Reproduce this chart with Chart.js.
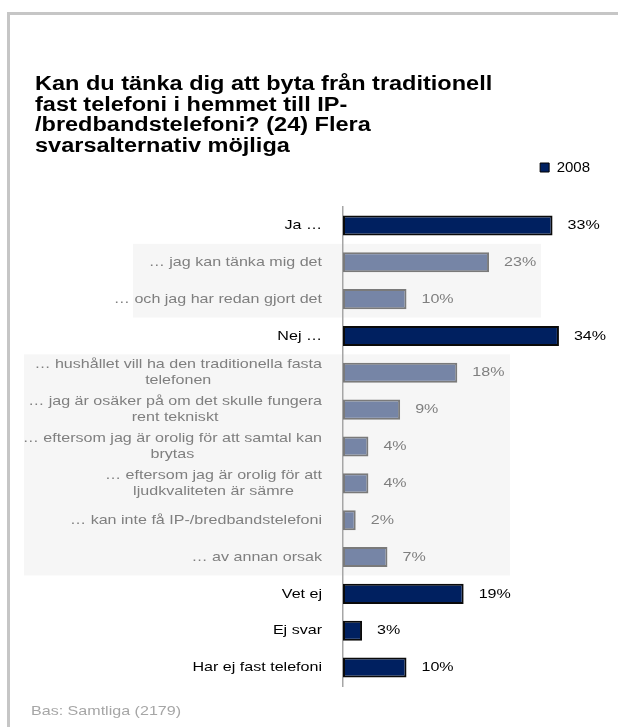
<!DOCTYPE html>
<html>
<head>
<meta charset="utf-8">
<script src="https://cdn.jsdelivr.net/npm/chart.js@4.4.0/dist/chart.umd.min.js"></script>
<style>
	html, body { margin: 0; padding: 0; background: #fff; overflow: hidden; }
	#wrap { position: relative; width: 618px; height: 727px; }
	#frame { position: absolute; left: 7px; top: 12px; width: 700px; height: 800px; border: 3px solid #c6c6c6; box-sizing: border-box; }
	canvas { position: absolute; left: 0; top: 0; }
</style>
</head>
<body>
<div id="wrap">
	<div id="frame"></div>
	<canvas id="barChart" width="618" height="727"></canvas>
</div>
<script>
const categories = [
	'Ja …',
	'… jag kan tänka mig det',
	'… och jag har redan gjort det',
	'Nej …',
	[ '… hushållet vill ha den traditionella fasta', 'telefonen' ],
	[ '… jag är osäker på om det skulle fungera', 'rent tekniskt' ],
	[ '… eftersom jag är orolig för att samtal kan', 'brytas' ],
	[ '… eftersom jag är orolig för att', 'ljudkvaliteten är sämre' ],
	'… kan inte få IP-/bredbandstelefoni',
	'… av annan orsak',
	'Vet ej',
	'Ej svar',
	'Har ej fast telefoni'
];
const values2008 = [ 33, 23, 10, 34, 18, 9, 4, 4, 2, 7, 19, 3, 10 ];
// 0 = huvudsvar, 1 = delsvar under Ja/Nej
const answerLevel = [ 0, 1, 1, 0, 1, 1, 1, 1, 1, 1, 0, 0, 0 ];
const seriesName = '2008';

const titleLines = [
	'Kan du tänka dig att byta från traditionell',
	'fast telefoni i hemmet till IP-',
	'/bredbandstelefoni? (24) Flera',
	'svarsalternativ möjliga'
];
const footnote = 'Bas: Samtliga (2179)';

const FONT = '"Liberation Sans", Arial, sans-serif';
const navy = '#002060';
const subBlue = '#7685a6';
const mainText = '#000000';
const subText = '#7f7f7f';

// the slide text is set a little wide
const STRETCH = 1.2;

function wideText(ctx, text, x, y) {
	ctx.save();
	ctx.translate(x, y);
	ctx.scale(STRETCH, 1);
	ctx.fillText(text, 0, 0);
	ctx.restore();
}

// grey panels behind the sub answers (category index range + x extent)
const panels = [
	{ from: 1, to: 2, left: 133, right: 541 },
	{ from: 4, to: 9, left: 24, right: 510 }
];

const panelPlugin = {
	id: 'panels',
	beforeDraw(chart) {
		const ctx = chart.ctx;
		const y = chart.scales.y;
		const half = (y.getPixelForValue(1) - y.getPixelForValue(0)) / 2;
		ctx.save();
		ctx.fillStyle = '#f6f6f6';
		panels.forEach(p => {
			const top = y.getPixelForValue(p.from) - half;
			const bottom = y.getPixelForValue(p.to) + half;
			ctx.fillRect(p.left, top, p.right - p.left, bottom - top);
		});
		ctx.restore();
	}
};

// heading and source note
const slideText = {
	id: 'slideText',
	afterDraw(chart) {
		const ctx = chart.ctx;
		ctx.save();
		ctx.textBaseline = 'middle';
		ctx.textAlign = 'left';
		ctx.fillStyle = '#000';
		ctx.font = 'bold 19.6px ' + FONT;
		titleLines.forEach((line, k) => wideText(ctx, line, 35, 85 + k * 20.5));
		ctx.fillStyle = '#a6a6a6';
		ctx.font = '13.4px ' + FONT;
		wideText(ctx, footnote, 31, 711.5);
		ctx.restore();
	}
};

// category labels: block right aligned, lines centred within the block
const answerLabels = {
	id: 'answerLabels',
	afterDraw(chart) {
		const ctx = chart.ctx;
		const y = chart.scales.y;
		const right = chart.chartArea.left - 21;
		const lineGap = 16;
		ctx.save();
		ctx.font = '13.4px ' + FONT;
		ctx.textBaseline = 'middle';
		ctx.textAlign = 'center';
		categories.forEach((label, i) => {
			const lines = Array.isArray(label) ? label : [ label ];
			const widest = STRETCH * Math.max(...lines.map(l => ctx.measureText(l).width));
			const cx = right - widest / 2;
			const cy = y.getPixelForValue(i);
			ctx.fillStyle = answerLevel[i] ? subText : mainText;
			lines.forEach((line, k) => {
				wideText(ctx, line, cx, cy + (k - (lines.length - 1) / 2) * lineGap);
			});
		});
		ctx.restore();
	}
};

// percentage next to each bar
const valueLabels = {
	id: 'valueLabels',
	afterDatasetsDraw(chart) {
		const ctx = chart.ctx;
		const meta = chart.getDatasetMeta(0);
		ctx.save();
		ctx.font = '13.4px ' + FONT;
		ctx.textBaseline = 'middle';
		ctx.textAlign = 'left';
		meta.data.forEach((bar, i) => {
			ctx.fillStyle = answerLevel[i] ? subText : mainText;
			wideText(ctx, values2008[i] + '%', bar.x + 15, bar.y);
		});
		ctx.restore();
	}
};

const ctx1 = document.getElementById('barChart').getContext('2d');

const barChart = new Chart(ctx1, {
	type: 'bar',

	data: {
		labels: categories,
		datasets: [
			{
				label: seriesName,
				data: values2008,
				backgroundColor: answerLevel.map(l => (l ? subBlue : navy)),
				borderColor: answerLevel.map(l => (l ? '#7a7a7a' : '#0a0a0a')),
				borderWidth: 2,
				borderSkipped: false,
				barPercentage: 0.545,
				categoryPercentage: 1
			}
		]
	},

	options: {
		indexAxis: 'y',
		responsive: false,
		animation: false,
		layout: {
			padding: { top: 153, left: 35, right: 21, bottom: 41 }
		},
		scales: {
			x: {
				position: 'top',
				min: 0,
				max: 40,
				grid: { display: false },
				border: { display: false },
				ticks: { display: false },
				afterFit(scale) {
					scale.height = 22;
				}
			},
			y: {
				grid: { display: false },
				border: { display: true, color: '#a6a6a6', width: 1.5 },
				ticks: { display: false },
				afterFit(scale) {
					scale.width = 308;
				}
			}
		},
		plugins: {
			tooltip: { enabled: false },
			title: { display: false },
			legend: {
				display: true,
				position: 'top',
				align: 'end',
				labels: {
					color: '#000',
					font: { family: FONT, size: 15 },
					boxWidth: 9,
					boxHeight: 9,
					padding: 7,
					generateLabels: () => [
						{ text: seriesName, fillStyle: navy, strokeStyle: '#000', lineWidth: 1, datasetIndex: 0 }
					]
				}
			}
		}
	},

	plugins: [ panelPlugin, slideText, answerLabels, valueLabels ]
});
</script>
</body>
</html>
